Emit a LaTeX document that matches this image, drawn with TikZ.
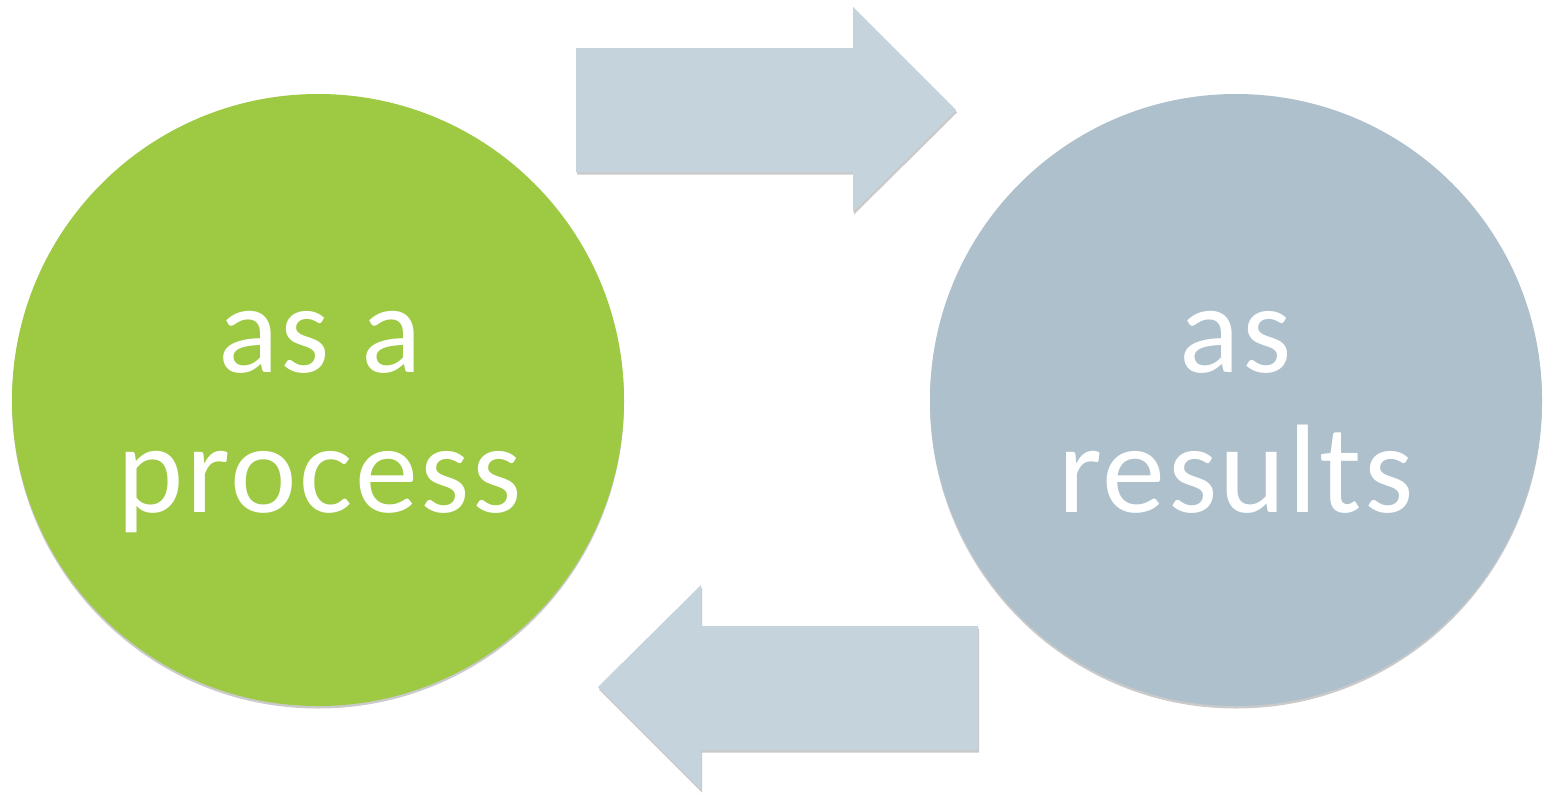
\documentclass[tikz,border=0pt]{standalone}
\usepackage{fontspec}
\setmainfont{Carlito}
\newfontfamily\labelfont[LetterSpace=2]{Carlito}
\usetikzlibrary{shadows}
\definecolor{procgreen}{HTML}{9DC943}
\definecolor{resblue}{HTML}{ADC0CB}
\definecolor{arrowblue}{HTML}{C5D3DC}
\tikzset{
  bubble/.style={circle, minimum size=612pt, inner sep=0pt,
    drop shadow={opacity=0.35, shadow xshift=0pt, shadow yshift=-2.5pt, fill=black!60}},
  bigarrow/.style={fill=arrowblue,
    drop shadow={opacity=0.35, shadow xshift=1pt, shadow yshift=-2.5pt, fill=black!60}},
  label/.style={text=white, align=center, font=\labelfont\fontsize{126}{140}\selectfont, inner sep=0pt}
}
\begin{document}
\begin{tikzpicture}[x=1pt,y=-1pt]
\useasboundingbox (0,0) rectangle (1555,795);
% circles
\node[bubble, fill=procgreen] (proc) at (318,400) {};
\node[bubble, fill=resblue] (res) at (1236,400) {};
% arrows
\path[bigarrow] (576,48) -- (853,48) -- (853,7) -- (956,110) -- (853,212) -- (853,172) -- (576,172) -- cycle;
\path[bigarrow] (978,626) -- (701,626) -- (701,585) -- (598,687) -- (701,790) -- (701,750) -- (978,750) -- cycle;
% texts
\node[label, anchor=base] (proctext) at (320,512) {as a\\process};
\node[label, anchor=base] (restext) at (1236,512) {as\\results};
\end{tikzpicture}
\end{document}
